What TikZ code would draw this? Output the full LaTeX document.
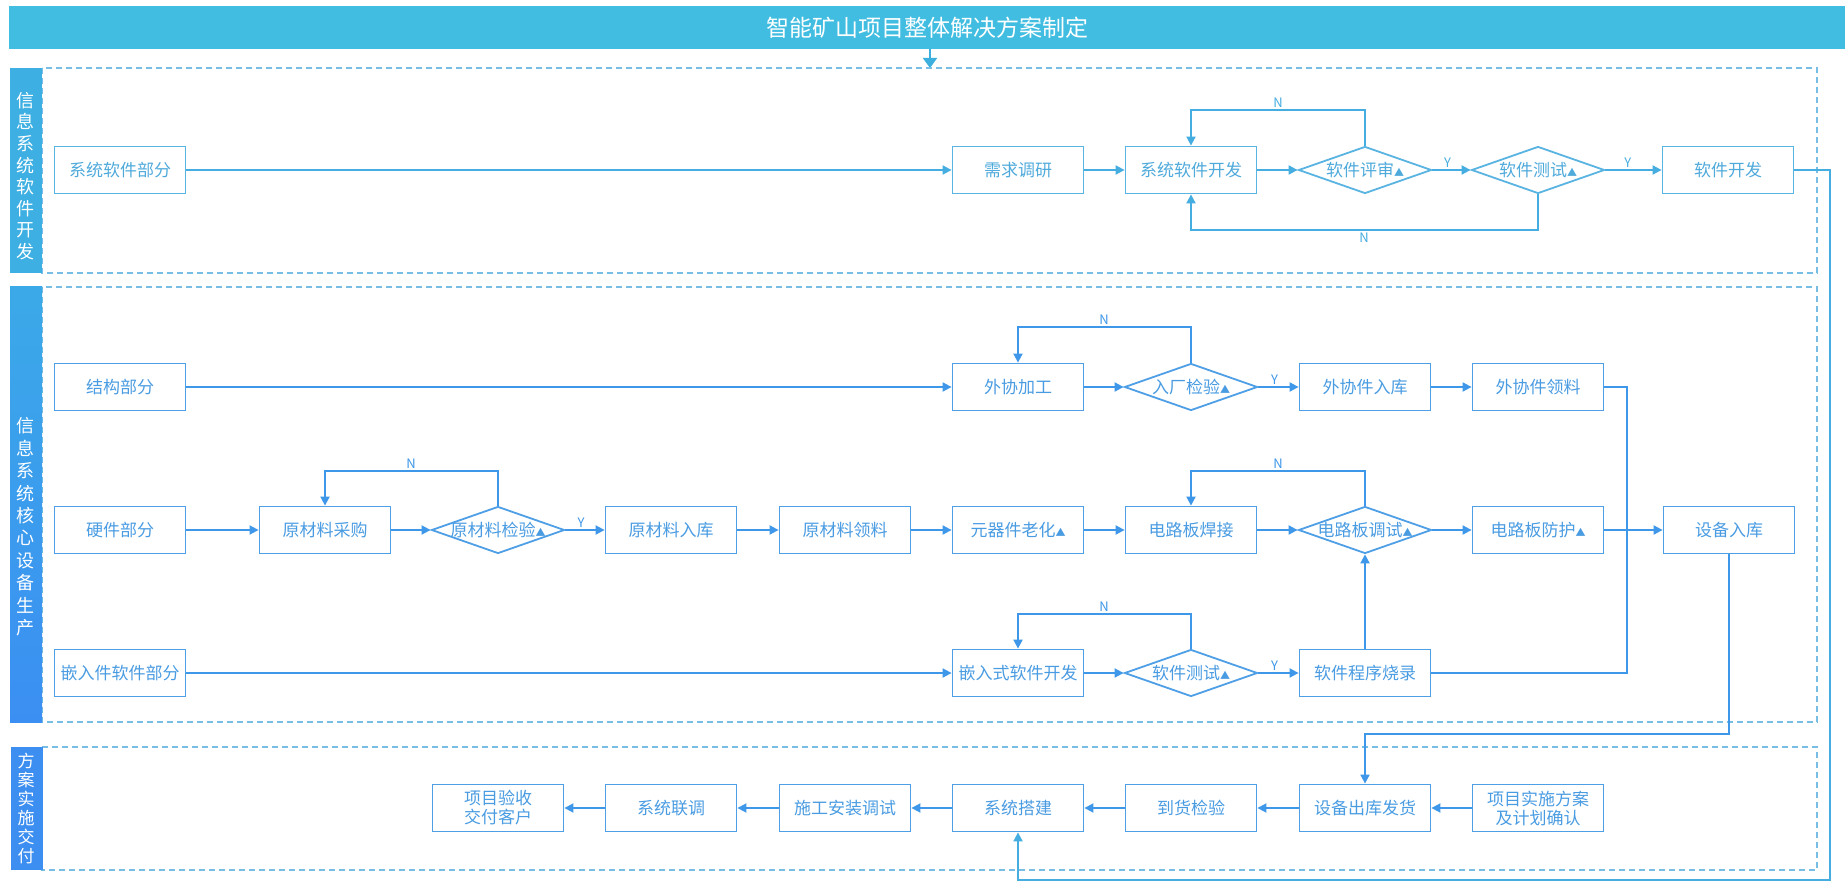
\documentclass[tikz,border=0pt]{standalone}
\usepackage{fontspec}
\setmainfont{Noto Sans CJK SC}
\usetikzlibrary{arrows.meta,shapes.geometric,calc}
\definecolor{titlec}{HTML}{40BDE0}
\definecolor{arrowc}{HTML}{3BB0DF}
\definecolor{barone}{HTML}{3DAFE2}
\definecolor{bartwotop}{HTML}{3BA9E8}
\definecolor{bartwobot}{HTML}{3B8FF2}
\definecolor{barthree}{HTML}{3C8EF0}
\definecolor{dashc}{HTML}{78BDE3}
\definecolor{txtone}{HTML}{4FAADC}
\definecolor{bdone}{HTML}{5AB4E2}
\definecolor{lnone}{HTML}{46ADE0}
\definecolor{txttwo}{HTML}{4A9CE2}
\definecolor{bdtwo}{HTML}{4E9FE6}
\definecolor{lntwo}{HTML}{3E97E8}
\tikzset{
  boxbase/.style={draw, line width=1.8pt, minimum width=131pt, minimum height=47pt, inner sep=0pt, fill=white, align=center, font=\fontsize{17pt}{19pt}\selectfont},
  boxone/.style={boxbase, draw=bdone, text=txtone},
  boxtwo/.style={boxbase, draw=bdtwo, text=txttwo},
  dmdone/.style={boxone, diamond, minimum width=133pt, minimum height=47pt},
  dmdtwo/.style={boxtwo, diamond, minimum width=133pt, minimum height=47pt},
  connone/.style={draw=lnone, line width=1.8pt, -{Triangle[length=9pt,width=9pt]}},
  conntwo/.style={draw=lntwo, line width=1.8pt, -{Triangle[length=9pt,width=9pt]}},
  plainone/.style={draw=lnone, line width=1.8pt},
  plaintwo/.style={draw=lntwo, line width=1.8pt},
  lblone/.style={text=lnone, font=\fontsize{13pt}{13pt}\selectfont, inner sep=2pt},
  lbltwo/.style={text=lntwo, font=\fontsize{13pt}{13pt}\selectfont, inner sep=2pt},
  lanedash/.style={draw=dashc, line width=1.5pt, dash pattern=on 6pt off 4pt},
  lanebar/.style={minimum width=32pt, inner sep=0pt, draw=none},
  lanetext/.style={text=white, align=center, inner sep=0pt},
}
\newcommand{\tri}{{\fontsize{10pt}{10pt}\selectfont ▲}}
\begin{document}
\begin{tikzpicture}[x=1pt,y=-1pt]
\useasboundingbox (0,0) rectangle (1845,882);
\fill[white] (0,0) rectangle (1845,882);

% title
\node[fill=titlec, minimum width=1836pt, minimum height=43pt, inner sep=0pt, text=white, font=\fontsize{23pt}{25pt}\selectfont] (title) at (927,27.5) {智能矿山项目整体解决方案制定};
\coordinate (tarrow) at (930,68);
\draw[draw=arrowc, line width=2pt, -{Triangle[length=10pt,width=14pt]}] (title.south -| tarrow) -- (tarrow);

% lanes
\draw[lanedash] (42,68) rectangle (1817,273);
\draw[lanedash] (42,287) rectangle (1817,722);
\draw[lanedash] (42,747) rectangle (1817,870);
\node[lanebar, fill=barone, minimum height=205pt] (bar1) at (26,170.5) {};
\node[lanebar, top color=bartwotop, bottom color=bartwobot, minimum height=435pt] (bar2) at (26,504.5) {};
\node[lanebar, fill=barthree, minimum height=123pt] (bar3) at (26.5,808.5) {};
\node[lanetext, font=\fontsize{18pt}{21.6pt}\selectfont] (lab1) at (25.5,176) {信\\息\\系\\统\\软\\件\\开\\发};
\node[lanetext, font=\fontsize{18pt}{22.4pt}\selectfont] (lab2) at (25.5,527) {信\\息\\系\\统\\核\\心\\设\\备\\生\\产};
\node[lanetext, font=\fontsize{17pt}{19pt}\selectfont] (lab3) at (26,809) {方\\案\\实\\施\\交\\付};

% lane 1 nodes
\node[boxone] (s0) at (120,170) {系统软件部分};
\node[boxone] (s1) at (1018,170) {需求调研};
\node[boxone] (s2) at (1191,170) {系统软件开发};
\node[dmdone] (s3) at (1365,170) {\makebox[0pt]{软件评审\tri}};
\node[dmdone] (s4) at (1538,170) {\makebox[0pt]{软件测试\tri}};
\node[boxone] (s5) at (1728,170) {软件开发};

% lane 2 nodes
\node[boxtwo] (a0) at (120,387) {结构部分};
\node[boxtwo] (a1) at (1018,387) {外协加工};
\node[dmdtwo] (a2) at (1191,387) {\makebox[0pt]{入厂检验\tri}};
\node[boxtwo] (a3) at (1365,387) {外协件入库};
\node[boxtwo] (a4) at (1538,387) {外协件领料};

\node[boxtwo] (b0) at (120,530) {硬件部分};
\node[boxtwo] (b1) at (325,530) {原材料采购};
\node[dmdtwo] (b2) at (498,530) {\makebox[0pt]{原材料检验\tri}};
\node[boxtwo] (b3) at (671,530) {原材料入库};
\node[boxtwo] (b4) at (845,530) {原材料领料};
\node[boxtwo] (b5) at (1018,530) {元器件老化\tri};
\node[boxtwo] (b6) at (1191,530) {电路板焊接};
\node[dmdtwo] (b7) at (1365,530) {\makebox[0pt]{电路板调试\tri}};
\node[boxtwo] (b8) at (1538,530) {电路板防护\tri};
\node[boxtwo] (b9) at (1729,530) {设备入库};

\node[boxtwo] (c0) at (120,673) {嵌入件软件部分};
\node[boxtwo] (c1) at (1018,673) {嵌入式软件开发};
\node[dmdtwo] (c2) at (1191,673) {\makebox[0pt]{软件测试\tri}};
\node[boxtwo] (c3) at (1365,673) {软件程序烧录};

% lane 3 nodes
\node[boxtwo] (d1) at (498,808) {项目验收\\交付客户};
\node[boxtwo] (d2) at (671,808) {系统联调};
\node[boxtwo] (d3) at (845,808) {施工安装调试};
\node[boxtwo] (d4) at (1018,808) {系统搭建};
\node[boxtwo] (d5) at (1191,808) {到货检验};
\node[boxtwo] (d6) at (1365,808) {设备出库发货};
\node[boxtwo] (d7) at (1538,808) {项目实施方案\\及计划确认};

% lane 1 connectors
\draw[connone] (s0) -- (s1);
\draw[connone] (s1) -- (s2);
\draw[connone] (s2) -- (s3);
\draw[connone] (s3) -- node[lblone, above, pos=0.4] {Y} (s4);
\draw[connone] (s4) -- node[lblone, above, pos=0.4] {Y} (s5);
\coordinate (n1) at (1278,110);
\draw[connone] (s3.north) |- (n1) node[lblone, above] {N} -| (s2.north);
\coordinate (n2) at (1364,230);
\draw[connone] (s4.south) |- (n2) node[lblone, below] {N} -| (s2.south);

% lane 2 connectors
\draw[conntwo] (a0) -- (a1);
\draw[conntwo] (a1) -- (a2);
\draw[conntwo] (a2) -- node[lbltwo, above, pos=0.4] {Y} (a3);
\draw[conntwo] (a3) -- (a4);
\coordinate (na) at (1104,327);
\draw[conntwo] (a2.north) |- (na) node[lbltwo, above] {N} -| (a1.north);

\draw[conntwo] (b0) -- (b1);
\draw[conntwo] (b1) -- (b2);
\draw[conntwo] (b2) -- node[lbltwo, above, pos=0.4] {Y} (b3);
\draw[conntwo] (b3) -- (b4);
\draw[conntwo] (b4) -- (b5);
\draw[conntwo] (b5) -- (b6);
\draw[conntwo] (b6) -- (b7);
\draw[conntwo] (b7) -- (b8);
\draw[conntwo] (b8) -- (b9);
\coordinate (nb1) at (411,471);
\draw[conntwo] (b2.north) |- (nb1) node[lbltwo, above] {N} -| (b1.north);
\coordinate (nb2) at (1278,471);
\draw[conntwo] (b7.north) |- (nb2) node[lbltwo, above] {N} -| (b6.north);

\draw[conntwo] (c0) -- (c1);
\draw[conntwo] (c1) -- (c2);
\draw[conntwo] (c2) -- node[lbltwo, above, pos=0.4] {Y} (c3);
\coordinate (nc) at (1104,614);
\draw[conntwo] (c2.north) |- (nc) node[lbltwo, above] {N} -| (c1.north);
\draw[conntwo] (c3) -- (b7);

\coordinate (j) at (1627,530);
\draw[plaintwo] (a4.east) -| (j);
\draw[plaintwo] (c3.east) -| (j);

% to lane 3
\coordinate (k) at (1365,734);
\draw[conntwo] (b9.south) |- (k) -- (d6.north);
\coordinate (o1) at (1830,880);
\draw[connone] (s5.east) -| (o1) -| (d4.south);

% lane 3 connectors
\draw[conntwo] (d7) -- (d6);
\draw[conntwo] (d6) -- (d5);
\draw[conntwo] (d5) -- (d4);
\draw[conntwo] (d4) -- (d3);
\draw[conntwo] (d3) -- (d2);
\draw[conntwo] (d2) -- (d1);
\end{tikzpicture}
\end{document}
